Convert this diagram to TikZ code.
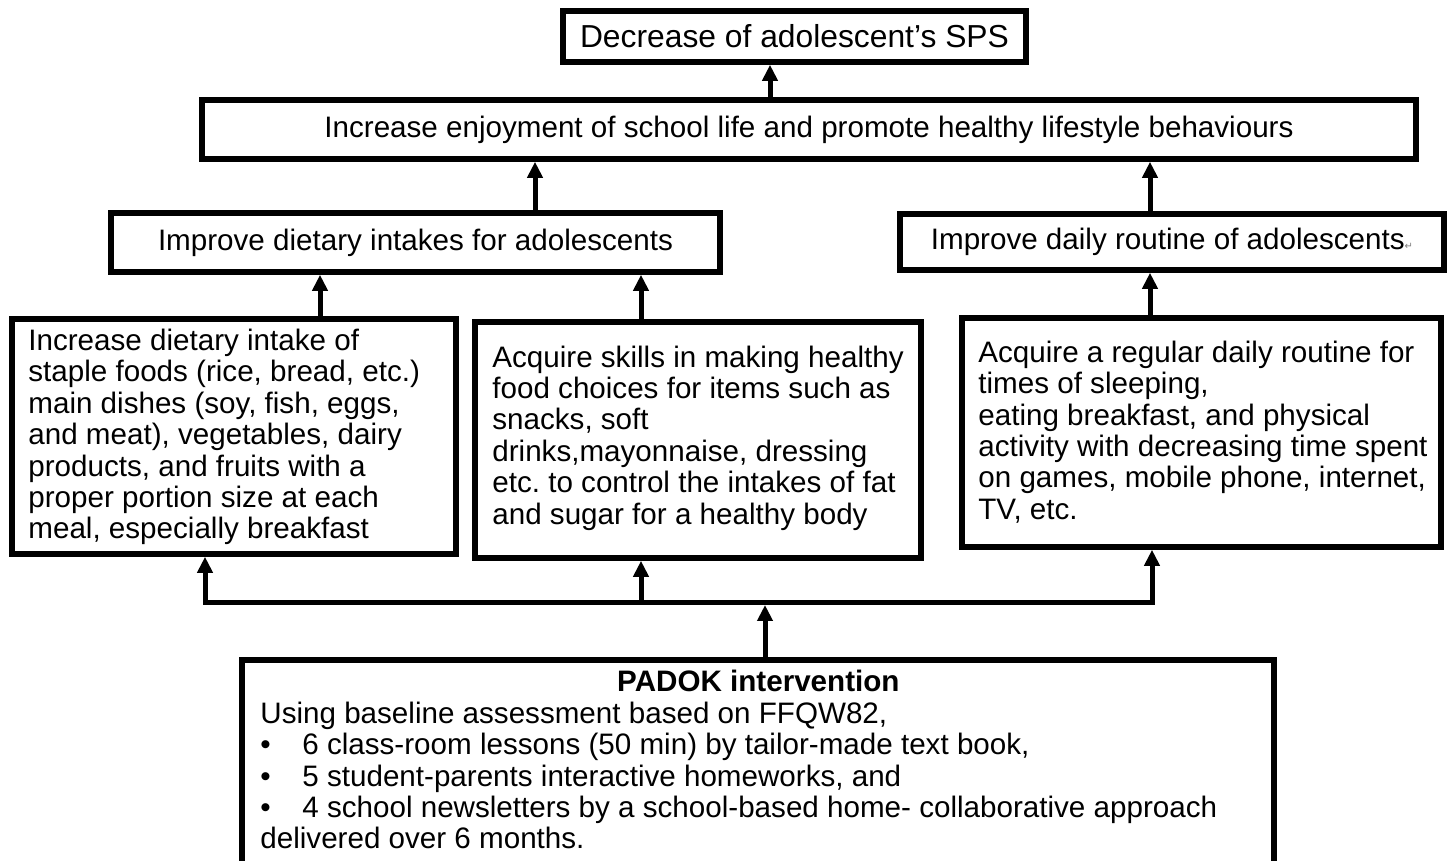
\documentclass[tikz,border=0pt]{standalone}
\usepackage{fontspec}
\setmainfont{Liberation Sans}
\newfontfamily\symfont{DejaVu Sans}
\usetikzlibrary{arrows.meta}
\frenchspacing
\begin{document}
\begin{tikzpicture}[x=0.5pt,y=-0.5pt,
  box/.style={draw=black, line width=2.8pt, inner sep=0pt, font=\frenchspacing\fontsize{14.8}{15.7}\selectfont},
  txt/.style={inner sep=0pt, align=left, anchor=west, font=\frenchspacing\fontsize{14.8}{15.7}\selectfont},
  arr/.style={line width=2.5pt, -{Triangle[width=7.5pt,length=8pt]}},
  arrboth/.style={line width=2.5pt, {Triangle[width=7.5pt,length=8pt]}-{Triangle[width=7.5pt,length=8pt]}},
]
\clip (0,0) rectangle (1448,861);
\fill[white] (0,0) rectangle (1448,861);

% level boxes
\node[box, minimum width=231.5pt, minimum height=25.5pt, font=\fontsize{15.9}{17}\selectfont] (top) at (794.5,36.5) {Decrease of adolescent’s SPS};
\node[box, minimum width=607pt, minimum height=29.5pt] (enjoy) at (809,129.5) {Increase enjoyment of school life and promote healthy lifestyle behaviours};
\node[box, minimum width=304.5pt, minimum height=29.5pt] (diet) at (415.5,242.5) {Improve dietary intakes for adolescents};
\node[box, minimum width=272pt, minimum height=28pt] (daily) at (1172,242) {Improve daily routine of adolescents{\symfont\fontsize{5}{6}\selectfont\color{gray}↵}};

% lower boxes
\node[box, minimum width=222pt, minimum height=117.5pt] (left) at (234,436.5) {};
\node[txt] (lefttxt) at (28,437) {Increase dietary intake of\\staple foods (rice, bread, etc.)\\main dishes (soy, fish, eggs,\\and meat), vegetables, dairy\\products, and fruits with a\\proper portion size at each\\meal, especially breakfast};

\node[box, minimum width=223pt, minimum height=118pt] (mid) at (698,440) {};
\node[txt] (midtxt) at (492,438) {Acquire skills in making healthy\\food choices for items such as\\snacks, soft\\drinks,mayonnaise, dressing\\etc. to control the intakes of fat\\and sugar for a healthy body};

\node[box, minimum width=239.5pt, minimum height=114.5pt] (right) at (1201.5,432.5) {};
\node[txt] (righttxt) at (978,432) {Acquire a regular daily routine for\\times of sleeping,\\eating breakfast, and physical\\activity with decreasing time spent\\on games, mobile phone, internet,\\TV, etc.};

% bottom box
\node[box, minimum width=516pt, minimum height=121.5pt, anchor=north] (padok) at (758,657) {};
\node[txt, anchor=north west] (padoktxt) at (260,670) {\makebox[498pt][c]{\bfseries PADOK intervention}\\
Using baseline assessment based on FFQW82,\\
\makebox[21pt][l]{•}6 class-room lessons (50 min) by tailor-made text book,\\
\makebox[21pt][l]{•}5 student-parents interactive homeworks, and\\
\makebox[21pt][l]{•}4 school newsletters by a school-based home- collaborative approach\\
delivered over 6 months.};

% connector x positions
\coordinate (c1) at (770,0);
\coordinate (c2) at (535,0);
\coordinate (c3) at (1150,0);
\coordinate (c4) at (320,0);
\coordinate (c5) at (641,0);
\coordinate (bL) at (205,603);
\coordinate (bM) at (641,603);
\coordinate (bR) at (1152,603);
\coordinate (bC) at (765,605);

\draw[arr] (enjoy.north -| c1) -- (top.south -| c1);
\draw[arr] (diet.north -| c2) -- (enjoy.south -| c2);
\draw[arr] (daily.north -| c3) -- (enjoy.south -| c3);
\draw[arr] (left.north -| c4) -- (diet.south -| c4);
\draw[arr] (mid.north -| c5) -- (diet.south -| c5);
\draw[arr] (right.north -| c3) -- (daily.south -| c3);

\draw[arrboth] (left.south -| bL) -- (bL) -- (bR) -- (right.south -| bR);
\draw[arr] (bM) -- (mid.south -| bM);
\draw[arr] (padok.north -| bC) -- (bC);
\end{tikzpicture}
\end{document}
